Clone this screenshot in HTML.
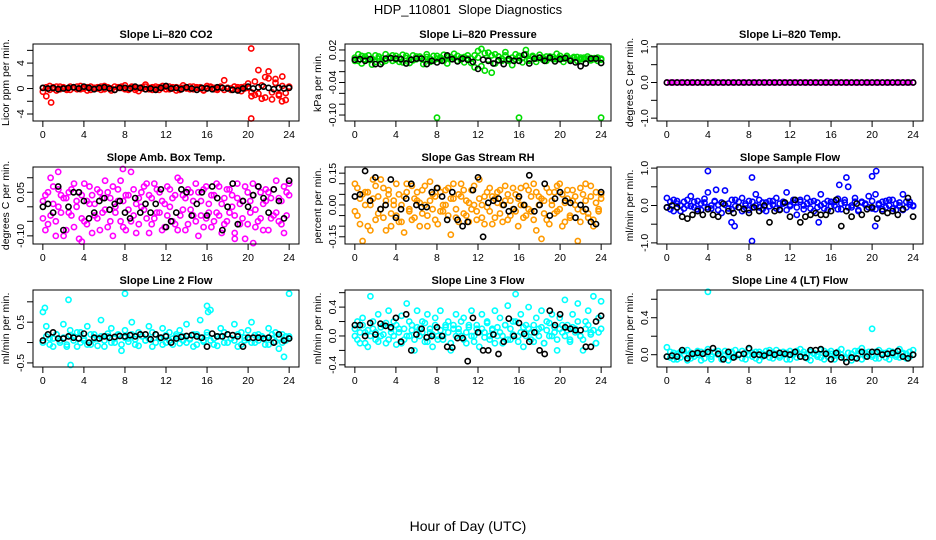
<!DOCTYPE html>
<html><head><meta charset="utf-8"><title>HDP_110801 Slope Diagnostics</title>
<style>
html,body{margin:0;padding:0;background:#fff;}
svg{display:block;font-family:"Liberation Sans",sans-serif;}
</style></head>
<body>
<svg id="chart" width="936" height="540" viewBox="0 0 936 540">
<text x="468" y="14" text-anchor="middle" font-size="13" style="white-space:pre">HDP_110801&#160; Slope Diagnostics</text>
<text x="468" y="531" text-anchor="middle" font-size="14">Hour of Day (UTC)</text>
</svg>
<script>
// ---- data ----
const xTicks = [0,4,8,12,16,20,24];

const co2Red = [-0.5,-1.2,0.4,0.2,-0.3,0.3,0.1,-0.2,0.3,0.2,-0.1,0.4,0.2,-0.3,0.3,0.1,0.2,-0.2,0.4,0.1,-0.3,0.3,0.2,0.1,0.5,-0.2,0.3,0.1,-0.4,0.2,0.6,0.1,-0.2,0.3,0.2,0.4,-0.1,0.3,0.2,-0.3,0.1,0.5,0.2,-0.1,0.3,0.1,0.2,-0.3,0.4,0.2,0.1,-0.2,0.3,1.3,0.1,-0.2,0.3,0.2,-0.4,0.3,0.1,-0.6,-1.0,2.9,-1.6,1.8,2.7,-1.7,1.5,-0.9,1.9,-1.8,0.3];
const co2Red2 = [0.1,0.2,-0.2,0.0,0.3,-0.1,0.2,0.0,-0.2,0.1,0.3,-0.1,0.0,0.2,-0.2,0.1,0.0,0.3,-0.1,0.2,0.0,-0.2,0.1,0.3,-0.1,0.0,0.2,-0.2,0.1,0.0,0.3,-0.1,0.2,0.0,-0.2,0.1,0.3,-0.1,0.0,0.2,-0.2,0.1,0.0,0.3,-0.1,0.2,0.0,-0.2,0.1,0.3,-0.1,0.0,0.2,-0.2,0.1,0.0,0.3,-0.1,0.2,0.0,0.8,-1.2,1.1,-0.8,0.5,-1.4,1.6,-0.6,0.9,-1.1,0.4,-0.7,0.2];
const co2OutX = [0.8,20.3,20.3,23.3];
const co2OutY = [-2.2,6.3,-4.7,-2.0];
const co2Black = [0.1,0.0,0.1,-0.1,0.0,0.1,0.2,0.0,0.3,0.1,-0.1,0.1,0.2,0.0,-0.2,0.1,0.1,0.0,0.3,0.1,-0.1,0.0,-0.2,0.1,0.4,0.0,0.1,-0.1,0.2,0.0,-0.2,0.1,0.0,-0.1,0.2,0.1,0.0,-0.2,-0.3,0.0,0.3,0.0,0.2,0.3,0.1,-0.1,0.1,0.0,0.1];

const presGreen = [0.0,0.012,-0.005,0.008,0.002,-0.007,0.01,0.004,-0.003,0.012,0.006,0.0,0.009,-0.002,0.011,0.005,-0.004,0.01,0.003,0.008,-0.006,0.012,0.004,0.0,0.009,0.002,0.011,-0.005,0.007,0.013,0.0,0.006,-0.003,0.01,0.004,-0.012,0.018,0.022,-0.018,0.015,-0.022,0.012,0.008,0.0,0.016,0.004,-0.008,0.012,0.006,-0.003,0.02,0.003,0.009,-0.002,0.011,0.006,0.0,0.008,0.003,0.013,0.005,-0.002,0.009,0.004,0.007,0.0,0.006,0.003,0.008,0.001,0.005,0.0,0.004];
const presGreen2 = [0.006,0.0,0.009,0.003,0.01,0.004,-0.002,0.008,0.005,0.0,0.007,0.01,0.002,0.006,-0.003,0.009,0.004,0.001,0.008,0.005,0.002,0.007,-0.002,0.009,0.004,0.006,0.0,0.008,0.003,0.005,0.009,0.002,0.007,0.004,-0.004,0.01,0.006,-0.01,0.014,0.002,0.01,-0.005,0.008,0.004,0.01,0.0,0.006,0.003,0.009,0.005,0.012,0.0,0.007,0.004,0.006,0.002,0.008,0.005,0.007,0.003,0.009,0.004,0.006,0.002,0.005,0.007,0.003,0.006,0.004,0.005,0.003,0.006,0.002];
const presOutX = [8,16,24];
const presOutY = [-0.105,-0.105,-0.105];
const presBlack = [0.002,0.003,0.0,0.003,-0.006,-0.006,0.004,0.005,0.004,0.003,-0.005,0.002,0.004,0.004,-0.006,0.0,-0.003,0.0,0.01,0.003,-0.001,0.004,0.002,-0.002,-0.015,0.002,0.0,-0.005,0.001,-0.006,0.003,0.0,0.0,0.011,-0.005,0.004,0.006,0.0,0.006,-0.001,0.003,0.005,0.0,-0.003,-0.01,-0.005,0.004,0.004,-0.004];

const tempMag = [0,0,0,0,0,0,0,0,0,0,0,0,0,0,0,0,0,0,0,0,0,0,0,0,0,0,0,0,0,0,0,0,0,0,0,0,0,0,0,0,0,0,0,0,0,0,0,0,0,0,0,0,0,0,0,0,0,0,0,0,0,0,0,0,0,0,0,0,0,0,0,0,0];
const tempBlack = [0,0,0,0,0,0,0,0,0,0,0,0,0,0,0,0,0,0,0,0,0,0,0,0,0,0,0,0,0,0,0,0,0,0,0,0,0,0,0,0,0,0,0,0,0,0,0,0,0];

const ambMag = [-0.04,0.04,-0.06,0.1,0.01,-0.1,0.06,-0.02,0.03,-0.08,0.05,-0.03,0.08,0.0,-0.11,0.04,-0.05,0.02,0.07,-0.09,0.01,-0.04,0.05,-0.02,0.09,-0.07,0.03,-0.1,0.0,0.06,-0.05,0.02,-0.08,0.04,0.12,-0.03,0.01,-0.06,0.05,-0.01,0.08,-0.09,0.03,-0.04,0.06,-0.02,0.02,-0.07,0.07,0.0,-0.05,0.04,-0.08,0.09,-0.01,0.03,-0.06,0.05,-0.03,0.08,-0.1,0.02,0.06,-0.04,0.01,-0.07,0.04,-0.02,0.07,-0.09,0.03,-0.05,0.06,0.0,-0.03,0.08,-0.06,0.02,-0.11,0.05,-0.02,0.04,-0.07,0.07,-0.04,0.01,0.06,-0.08,0.03,-0.03,0.09,-0.05,0.02,-0.09,0.05,0.08];
const ambMag2 = [0.02,-0.08,0.05,-0.03,0.07,-0.05,0.0,0.04,-0.1,0.03,-0.02,0.06,-0.07,0.02,0.05,-0.04,0.08,-0.06,0.01,0.04,-0.03,0.06,-0.08,0.03,-0.01,0.05,-0.05,0.07,-0.02,0.02,0.09,-0.07,0.04,-0.01,-0.05,0.06,-0.09,0.03,0.0,0.07,-0.04,0.04,-0.06,0.08,-0.02,0.05,-0.08,0.01,-0.03,0.06,0.03,-0.06,0.1,-0.03,0.04,-0.08,0.06,-0.01,0.02,-0.05,0.05,-0.03,-0.07,0.07,-0.02,0.04,-0.05,0.08,-0.03,0.01,-0.06,0.06,-0.02,0.04,-0.09,0.03,0.01,-0.04,0.07,-0.06,0.02,0.08,-0.01,-0.05,0.05,-0.08,0.02,0.05,-0.04,0.06,-0.02,0.03,-0.06,0.07,-0.03,0.04];
const ambOutX = [1.5,7.8,3.8,20.5,18.7];
const ambOutY = [0.12,0.13,-0.12,-0.125,-0.11];
const ambBlack = [0.0,0.01,-0.02,0.07,-0.08,0.0,0.05,0.05,0.02,-0.04,-0.02,0.02,0.03,-0.01,0.01,0.02,-0.02,-0.04,0.03,-0.02,0.01,-0.02,0.01,0.06,-0.07,-0.05,-0.02,0.06,0.05,-0.03,0.01,0.05,-0.03,0.07,0.03,-0.08,0.0,0.08,-0.06,0.02,0.0,0.04,0.07,0.03,-0.02,0.06,0.02,-0.04,0.09];

const rhOrange = [0.1,-0.05,0.03,-0.17,0.06,-0.1,0.0,0.12,-0.07,0.04,-0.02,0.08,-0.12,0.05,-0.04,0.02,0.1,-0.08,0.0,-0.13,0.06,-0.03,0.09,-0.06,0.02,-0.1,0.07,0.0,-0.05,0.11,-0.02,0.04,-0.09,0.06,-0.03,0.0,0.08,-0.14,0.03,-0.06,0.05,0.1,-0.04,0.02,-0.08,0.07,0.0,-0.03,0.12,-0.06,0.04,-0.01,0.08,-0.09,0.03,0.06,-0.04,0.0,0.09,-0.07,0.02,-0.02,0.05,-0.1,0.08,0.0,-0.05,0.07,-0.03,0.1,-0.12,0.04,-0.16,0.02,-0.07,0.06,0.0,-0.04,0.09,-0.02,0.05,-0.08,0.03,-0.05,0.07,0.0,-0.17,0.08,-0.03,0.1,-0.06,0.04,-0.1,0.06,-0.02,0.03];
const rhOrange2 = [-0.03,0.08,-0.09,0.05,0.0,0.06,-0.12,0.03,0.09,-0.04,0.12,-0.06,0.02,0.07,-0.1,0.0,-0.05,0.05,-0.08,0.04,0.1,-0.02,-0.07,0.03,0.06,0.01,-0.04,0.09,-0.1,0.02,0.05,-0.07,0.08,-0.03,0.0,0.07,-0.05,0.03,0.1,-0.02,-0.08,0.04,0.07,-0.05,0.01,-0.02,0.09,-0.07,0.03,0.0,-0.09,0.06,-0.03,0.04,-0.06,0.01,0.07,-0.08,0.02,0.05,-0.05,0.08,-0.03,0.03,0.0,-0.06,0.09,-0.02,0.04,-0.07,0.06,0.0,0.03,-0.04,0.08,-0.09,0.02,0.06,-0.03,0.1,-0.1,0.01,0.07,-0.06,0.02,0.04,-0.02,-0.08,0.05,0.02,-0.04,0.09,-0.07,0.01,-0.03,0.05];
const rhBlack = [0.04,0.05,0.16,0.02,0.13,-0.02,0.0,0.12,-0.06,-0.02,0.03,0.1,0.0,-0.01,-0.01,0.06,0.08,0.04,-0.07,0.06,-0.07,-0.1,-0.08,0.07,0.13,-0.15,0.01,0.02,0.03,0.0,-0.03,-0.02,0.04,0.0,0.14,-0.03,0.0,0.1,-0.05,0.03,0.06,0.02,0.01,-0.06,0.0,-0.02,-0.08,-0.09,0.06];

const flowBlue = [0.2,-0.1,0.15,0.05,-0.15,0.1,0.0,0.25,-0.05,0.12,-0.12,0.08,0.35,-0.08,0.1,0.02,-0.2,0.4,0.05,-0.1,0.15,-0.05,0.2,0.0,-0.12,0.1,0.3,-0.05,0.08,-0.15,0.12,0.02,0.2,-0.1,0.05,0.35,-0.02,0.15,-0.25,0.1,0.0,0.2,-0.08,0.12,-0.05,0.3,0.05,-0.12,0.1,0.0,0.18,-0.1,0.08,0.5,-0.05,0.2,-0.15,0.1,0.02,0.25,-0.08,0.3,0.05,-0.1,0.12,0.0,0.15,-0.12,0.08,0.3,-0.05,0.1,0.0];
const flowBlue2 = [-0.05,0.1,-0.15,0.12,0.0,-0.08,0.15,-0.02,0.1,-0.1,0.05,0.18,-0.05,0.0,0.12,-0.12,0.08,0.02,-0.08,0.15,-0.02,0.1,-0.15,0.05,0.12,-0.05,0.0,0.15,-0.1,0.08,-0.02,0.12,-0.08,0.05,0.1,-0.12,0.02,0.08,-0.05,0.15,-0.1,0.05,0.1,-0.15,0.08,0.0,-0.08,0.12,-0.02,0.1,-0.1,0.05,0.15,-0.05,0.0,0.1,-0.12,0.08,0.05,-0.05,0.12,-0.1,0.02,0.1,-0.05,0.15,-0.08,0.05,0.0,-0.12,0.1,0.02,-0.02];
const flowOutX = [4.0,8.3,8.3,4.8,6.3,6.6,16.8,17.5,20.0,20.4,20.3,14.8];
const flowOutY = [0.92,-0.95,0.75,0.42,-0.45,-0.55,0.55,0.75,0.78,0.92,-0.55,-0.45];
const flowBlack = [-0.05,0.0,-0.05,-0.3,-0.35,-0.25,-0.15,-0.25,-0.1,-0.25,-0.3,0.05,-0.15,-0.2,-0.05,-0.1,-0.2,-0.05,-0.15,0.0,-0.45,-0.15,-0.12,0.08,-0.3,0.15,-0.45,-0.3,-0.25,-0.2,-0.25,-0.25,-0.15,0.15,-0.55,-0.15,-0.3,0.05,-0.25,-0.1,-0.05,-0.35,-0.15,-0.2,-0.15,-0.25,-0.1,0.2,-0.3];

const line2Cyan = [0.75,0.4,0.1,-0.1,0.2,0.05,0.45,-0.05,0.3,0.15,-0.1,0.25,0.05,0.4,-0.05,0.2,0.1,0.55,-0.1,0.15,0.35,0.0,0.2,-0.2,0.3,0.1,0.5,-0.05,0.25,0.15,0.05,0.4,-0.1,0.2,0.1,0.35,0.0,0.25,-0.05,0.15,0.3,0.05,0.45,0.1,-0.1,0.2,0.55,0.05,0.25,0.8,-0.05,0.15,0.35,0.0,0.2,0.1,0.45,-0.1,0.25,0.05,0.3,0.5,0.0,0.2,0.15,-0.05,0.35,0.1,0.25,-0.15,0.2,0.05,0.15];
const line2Cyan2 = [0.0,0.15,-0.05,0.1,0.2,0.0,0.12,-0.1,0.18,0.05,0.25,0.0,0.1,-0.05,0.2,0.08,-0.08,0.15,0.05,0.22,0.0,0.1,0.18,-0.05,0.12,0.02,0.2,0.08,-0.08,0.15,0.05,0.1,0.25,0.0,0.12,-0.05,0.18,0.05,0.1,0.2,-0.02,0.15,0.0,0.08,0.2,-0.05,0.12,0.02,0.18,0.05,0.1,-0.08,0.15,0.25,0.0,0.1,0.05,0.2,-0.05,0.12,0.08,0.0,0.18,0.05,0.15,0.1,-0.05,0.2,0.02,0.12,0.0,0.15,0.1];
const line2OutX = [0.2,2.5,2.7,8.0,16.0,16.1,24.0,23.5];
const line2OutY = [0.85,1.05,-0.55,1.2,0.9,0.75,1.2,-0.35];
const line2Black = [0.05,0.2,0.25,0.1,0.1,0.15,0.12,0.1,0.22,0.0,0.12,0.1,0.15,0.12,0.14,0.16,0.15,0.18,0.15,0.2,0.2,0.08,0.2,0.12,0.15,0.0,0.1,0.14,0.16,0.18,0.15,0.12,-0.1,0.22,0.15,0.15,0.2,0.18,0.15,-0.1,0.12,0.12,0.12,0.1,0.12,0.0,0.2,0.05,0.1];

const line3Cyan = [0.0,0.2,-0.1,0.25,0.05,-0.15,0.55,0.1,-0.05,0.3,0.0,0.15,-0.1,0.35,0.05,0.2,-0.12,0.1,0.28,-0.05,0.45,0.0,0.15,-0.2,0.35,0.1,0.2,-0.08,0.3,0.05,-0.15,0.25,0.0,0.35,-0.05,0.15,0.2,-0.2,0.1,0.3,0.05,0.0,0.25,-0.1,0.15,0.35,0.0,0.1,-0.15,0.3,0.05,0.2,-0.05,0.1,0.35,0.0,0.25,-0.1,0.15,0.42,-0.05,0.2,0.58,0.0,0.3,-0.15,0.15,0.4,0.05,-0.08,0.25,0.1,0.35,-0.1,0.2,0.0,0.3,0.12,-0.2,0.25,0.05,0.5,0.15,-0.05,0.3,0.1,0.45,0.0,-0.2,0.2,0.35,0.05,0.55,-0.1,0.25,0.48];
const line3Cyan2 = [0.1,-0.05,0.05,0.15,-0.1,0.08,0.0,0.2,0.05,-0.08,0.12,0.02,0.18,-0.05,0.1,0.0,0.15,0.05,-0.1,0.1,0.0,0.2,0.08,-0.05,0.12,0.0,0.05,0.18,-0.08,0.1,0.02,0.15,-0.05,0.08,0.0,0.12,0.05,-0.1,0.15,0.0,0.1,0.2,-0.05,0.05,0.12,0.0,-0.08,0.15,0.05,0.1,-0.02,0.18,0.0,0.08,-0.1,0.12,0.05,0.0,0.15,-0.05,0.1,0.02,0.2,-0.08,0.05,0.12,0.0,0.1,-0.05,0.15,0.05,0.0,0.12,-0.1,0.08,0.18,0.0,0.05,-0.05,0.1,0.15,0.0,0.08,-0.08,0.12,0.05,0.2,0.0,-0.05,0.1,0.15,0.02,0.08,-0.1,0.05,0.1];
const line3Black = [0.15,0.15,0.0,0.18,0.02,0.17,0.14,0.12,0.25,-0.08,0.3,-0.2,0.02,0.1,-0.02,0.0,0.12,0.0,-0.15,-0.16,-0.03,-0.03,-0.35,0.25,0.05,-0.2,-0.2,0.02,-0.25,-0.08,0.24,0.0,0.18,0.03,-0.08,0.05,-0.2,-0.25,0.35,0.15,0.3,0.12,0.1,0.08,0.08,-0.15,-0.15,0.2,0.28];

const line4Cyan = [0.08,-0.03,0.02,-0.05,0.03,0.0,0.05,-0.04,0.01,0.04,-0.06,0.02,0.06,-0.02,0.03,0.0,-0.05,0.04,0.01,-0.03,0.05,0.0,-0.04,0.02,0.06,-0.02,0.03,-0.06,0.01,0.04,-0.03,0.02,0.05,-0.01,0.0,-0.05,0.04,0.02,-0.03,0.06,0.0,-0.04,0.03,0.01,-0.02,0.05,-0.05,0.02,0.04,-0.01,0.0,0.06,-0.03,0.02,-0.06,0.04,0.01,0.07,-0.02,0.03,0.0,-0.04,0.05,0.02,-0.03,0.04,0.0,-0.02,0.06,0.01,-0.04,0.03,0.05];
const line4Cyan2 = [-0.02,0.03,-0.05,0.01,-0.03,0.04,-0.06,0.02,-0.02,0.0,0.03,-0.04,0.01,-0.05,0.02,0.04,-0.03,0.0,-0.06,0.03,-0.02,0.01,0.04,-0.05,0.0,0.02,-0.04,0.03,-0.02,0.0,0.05,-0.04,0.01,-0.03,0.03,0.02,-0.05,0.0,0.04,-0.02,0.03,0.01,-0.06,0.02,0.0,-0.03,0.04,-0.02,0.01,-0.05,0.03,0.0,-0.04,0.02,0.01,-0.03,0.04,-0.05,0.02,0.0,-0.02,0.03,-0.04,0.01,0.02,-0.05,0.03,0.0,-0.03,0.02,0.01,-0.02,0.0];
const line4OutX = [4.0,20.0];
const line4OutY = [0.68,0.28];
const line4Black = [-0.02,-0.01,-0.02,0.05,-0.04,0.01,0.02,0.01,0.03,0.07,0.01,-0.05,0.03,-0.03,0.0,0.01,0.07,0.0,0.0,-0.01,0.02,0.0,0.02,0.01,0.0,0.03,-0.02,-0.03,0.05,0.05,0.06,0.01,-0.05,0.02,-0.03,-0.08,-0.03,-0.04,0.03,-0.02,0.03,0.03,0.0,0.01,0.02,0.04,-0.02,-0.04,0.0];

// y-axis tick values and labels per panel
const co2Ticks = [-4,-2,0,2,4,6];          const co2Labels = ["-4","","0","","4",""];
const presTicks = [-0.10,-0.08,-0.06,-0.04,-0.02,0.0,0.02]; const presLabels = ["-0.10","","","-0.04","","","0.02"];
const tempTicks = [-1,-0.5,0,0.5,1];       const tempLabels = ["-1.0","","0.0","","1.0"];
const ambTicks = [-0.10,-0.05,0.0,0.05,0.10]; const ambLabels = ["-0.10","","","0.05",""];
const rhTicks = [-0.15,-0.10,-0.05,0.0,0.05,0.10,0.15]; const rhLabels = ["-0.15","","","0.00","","","0.15"];
const flowTicks = [-1,-0.5,0,0.5,1];       const flowLabels = ["-1.0","","0.0","","1.0"];
const line2Ticks = [-0.5,0,0.5,1.0];       const line2Labels = ["-0.5","","0.5",""];
const line3Ticks = [-0.4,-0.2,0,0.2,0.4,0.6]; const line3Labels = ["-0.4","","0.0","","0.4",""];
const line4Ticks = [0,0.2,0.4,0.6];        const line4Labels = ["0.0","","0.4",""];

// ---- layout ----
const NS = "http://www.w3.org/2000/svg";
const svg = document.getElementById('chart');
const colX = [33, 345, 657];
const rowY = [44, 167, 290];
const W = 266, H = 77;

function mk(tag, attrs, parent){
  const e = document.createElementNS(NS, tag);
  for (const k in attrs) e.setAttribute(k, attrs[k]);
  (parent||svg).appendChild(e);
  return e;
}
function evenTimes(n){ const t=[]; for(let i=0;i<n;i++) t.push(i*24/(n-1)); return t; }

const panels = [
 {c:0,r:0,name:'co2',title:'Slope Li\u2013820 CO2',ylab:'Licor ppm per min.',ylim:[-5.1,7.0],ticks:co2Ticks,labels:co2Labels,color:'#ff0000',
  series:[[null,co2Red],[null,co2Red2],[co2OutX,co2OutY]],black:co2Black},
 {c:1,r:0,name:'pressure',title:'Slope Li\u2013820 Pressure',ylab:'kPa per min.',ylim:[-0.111,0.031],ticks:presTicks,labels:presLabels,color:'#00dd00',
  series:[[null,presGreen],[null,presGreen2],[presOutX,presOutY]],black:presBlack},
 {c:2,r:0,name:'temp',title:'Slope Li\u2013820 Temp.',ylab:'degrees C per min.',ylim:[-1.08,1.08],ticks:tempTicks,labels:tempLabels,color:'#ff00ff',
  series:[[null,tempMag]],black:tempBlack},
 {c:0,r:1,name:'amb-box-temp',title:'Slope Amb. Box Temp.',ylab:'degrees C per min.',ylim:[-0.128,0.137],ticks:ambTicks,labels:ambLabels,color:'#ff00ff',
  series:[[null,ambMag],[null,ambMag2],[ambOutX,ambOutY]],black:ambBlack},
 {c:1,r:1,name:'gas-stream-rh',title:'Slope Gas Stream RH',ylab:'percent per min.',ylim:[-0.184,0.179],ticks:rhTicks,labels:rhLabels,color:'#ff9a00',
  series:[[null,rhOrange],[null,rhOrange2]],black:rhBlack},
 {c:2,r:1,name:'sample-flow',title:'Slope Sample Flow',ylab:'ml/min per min.',ylim:[-1.03,1.03],ticks:flowTicks,labels:flowLabels,color:'#0000ff',
  series:[[null,flowBlue],[null,flowBlue2],[flowOutX,flowOutY]],black:flowBlack},
 {c:0,r:2,name:'line2-flow',title:'Slope Line 2 Flow',ylab:'ml/min per min.',ylim:[-0.6,1.29],ticks:line2Ticks,labels:line2Labels,color:'#00ffff',
  series:[[null,line2Cyan],[null,line2Cyan2],[line2OutX,line2OutY]],black:line2Black},
 {c:1,r:2,name:'line3-flow',title:'Slope Line 3 Flow',ylab:'ml/min per min.',ylim:[-0.43,0.637],ticks:line3Ticks,labels:line3Labels,color:'#00ffff',
  series:[[null,line3Cyan],[null,line3Cyan2]],black:line3Black},
 {c:2,r:2,name:'line4-flow',title:'Slope Line 4 (LT) Flow',ylab:'ml/min per min.',ylim:[-0.133,0.70],ticks:line4Ticks,labels:line4Labels,color:'#00ffff',
  series:[[null,line4Cyan],[null,line4Cyan2],[line4OutX,line4OutY]],black:line4Black}
];

panels.forEach(p=>{
  const x0 = colX[p.c], y0 = rowY[p.r];
  const g = mk('g',{});
  
  
  const xs = v => x0 + (v + 0.96) / 25.92 * W;
  const ys = v => y0 + H - (v - p.ylim[0]) / (p.ylim[1] - p.ylim[0]) * H;

  const t = mk('text',{x:x0+W/2,y:y0-6,'text-anchor':'middle','font-size':'11','font-weight':'bold'},g);
  t.textContent = p.title;
  
  

  const yl = mk('text',{x:0,y:0,'text-anchor':'middle','font-size':'10.5',transform:`translate(${x0-24},${y0+H/2}) rotate(-90)`},g);
  yl.textContent = p.ylab;
  
  

  const pts = mk('g',{fill:'none','stroke-width':'1.6'},g);
  
  
  p.series.forEach(s=>{
    const vals = s[1];
    const times = s[0] || evenTimes(vals.length);
    vals.forEach((v,i)=>{
      const c = mk('circle',{cx:xs(times[i]).toFixed(1),cy:ys(v).toFixed(1),r:'2.6',stroke:p.color},pts);
      
      
    });
  });
  const bt = evenTimes(p.black.length);
  p.black.forEach((v,i)=>{
    const c = mk('circle',{cx:xs(bt[i]).toFixed(1),cy:ys(v).toFixed(1),r:'2.6',stroke:'#000'},pts);
    
    
  });

  const box = mk('rect',{x:x0,y:y0,width:W,height:H,fill:'none',stroke:'#000','stroke-width':'1'},g);
  
  

  const xa = mk('g',{},g);
  
  
  xTicks.forEach(v=>{
    const X = xs(v);
    mk('line',{x1:X,x2:X,y1:y0+H,y2:y0+H+6,stroke:'#000'},xa);
    const tl = mk('text',{x:X,y:y0+H+17,'text-anchor':'middle','font-size':'10.5'},xa);
    tl.textContent = v;
    
    
  });
  const ya = mk('g',{},g);
  
  
  p.ticks.forEach((v,i)=>{
    const Y = ys(v);
    mk('line',{x1:x0-6,x2:x0,y1:Y,y2:Y,stroke:'#000'},ya);
    if (p.labels[i]) {
      const tl = mk('text',{x:0,y:0,'text-anchor':'middle','font-size':'10.5',transform:`translate(${x0-9},${Y}) rotate(-90)`},ya);
      tl.textContent = p.labels[i];
      
      
    }
  });
});
</script>
</body></html>
